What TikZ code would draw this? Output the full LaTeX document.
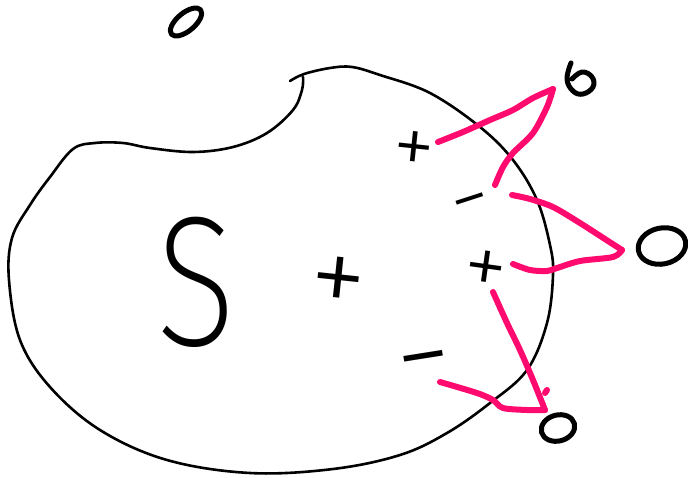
\documentclass[tikz,border=0pt]{standalone}
\usepackage{fontspec}
\IfFontExistsTF{Fira Sans ExtraLight}{\newfontfamily\handfont{Fira Sans ExtraLight}}{\IfFontExistsTF{Fira Sans Light}{\newfontfamily\handfont{Fira Sans Light}}{\newfontfamily\handfont{Fira Sans}}}
\IfFontExistsTF{Fira Sans Light}{\newfontfamily\signfont{Fira Sans Light}}{\newfontfamily\signfont{Fira Sans}}
\definecolor{inkpink}{RGB}{255,10,110}
\tikzset{
  outline/.style={line width=2.6pt, line cap=round, line join=round},
  ring/.style={line width=5pt, line cap=round, line join=round},
  pinkline/.style={draw=inkpink, line width=6pt, line cap=round, line join=round},
  bigletter/.style={inner sep=0pt, font=\handfont\fontsize{185}{185}\selectfont},
  sign/.style={inner sep=0pt, anchor=base, font=\signfont\fontsize{#1}{#1}\selectfont},
  plussign/.style={sign=#1, text height=0.5em, text depth=0pt},
  minussign/.style={sign=#1, text height=0.3em, text depth=0pt}
}
\begin{document}
\begin{tikzpicture}[x=1pt,y=-1pt]
\useasboundingbox (0,0) rectangle (688,477);
% the region S
\draw[outline] plot[smooth, tension=0.6] coordinates {
 (290,81) (304,74) (330,68) (352,67) (380,75) (430,93) (480,127) (513,160)
 (537,200) (550,245) (553,275) (547,323) (527,370) (490,403) (447,433)
 (400,455) (333,469) (250,473) (167,460) (100,430) (50,387) (20,340)
 (9,280) (12,238) (30,205) (50,177) (73,149) (95,143) (123,143) (150,148)
 (193,152) (233,147) (267,133) (293,110) (302,90) (303,77)};
% labels
\node[bigletter] (S) at (196,282) {\scalebox{0.8}[1]{S}};
\node[plussign=115, rotate=-6] (p1) at (335,315) {+};
\node[plussign=85, rotate=-6] (p2) at (411,175) {+};
\node[plussign=88, rotate=-8] (p3) at (482,296) {+};
\node[minussign=78, rotate=18] (m1) at (478,224) {−};
\node[minussign=110, rotate=9] (m2) at (429,392) {−};
% small circles
\draw[ring, rotate around={40:(186,22)}] (186,22) ellipse [x radius=19pt, y radius=9pt];
\draw[ring, rotate around={12:(662,246)}] (662,246) ellipse [x radius=24pt, y radius=18pt];
\draw[ring, rotate around={15:(558,428)}] (558,428) ellipse [x radius=17pt, y radius=13pt];
\draw[ring] plot[smooth, tension=0.7] coordinates {(571,63) (567,79) (573,91) (583,94) (593,87) (592,77) (582,72) (572,79)};
% pink strokes
\draw[pinkline] plot[smooth, tension=0.5] coordinates {(438,142) (463,132) (490,120) (513,110) (533,98) (553,89)};
\draw[pinkline] plot[smooth, tension=0.5] coordinates {(553,89) (547,107) (533,133) (513,153) (503,167) (495,185)};
\draw[pinkline] plot[smooth, tension=0.5] coordinates {(512,195) (530,199) (553,207) (580,223) (608,241) (622,250)};
\draw[pinkline] plot[smooth, tension=0.5] coordinates {(622,250) (613,257) (580,261) (557,268) (547,271) (530,270) (513,264)};
\draw[pinkline] plot[smooth, tension=0.5] coordinates {(493,292) (507,323) (520,350) (533,380) (545,410)};
\draw[pinkline] (545,393) -- (547,390);
\draw[pinkline] plot[smooth, tension=0.5] coordinates {(545,410) (527,410) (503,408) (493,400) (477,393) (440,382)};
\end{tikzpicture}
\end{document}
